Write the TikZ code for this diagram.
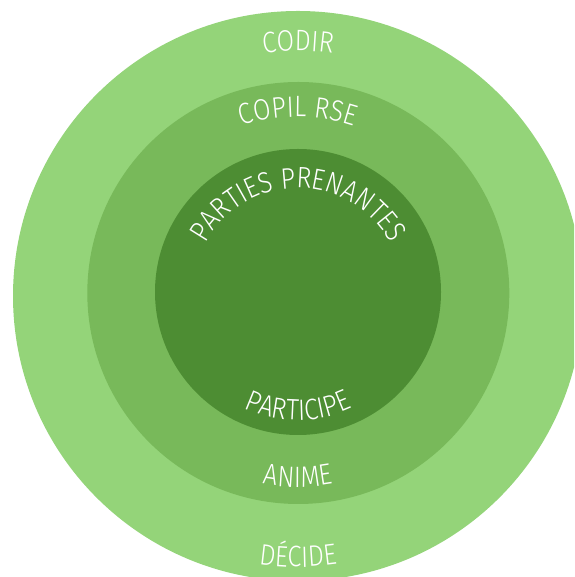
\documentclass[tikz,border=0pt]{standalone}
\usepackage{fontspec}
\setmainfont{Fira Sans}[UprightFont=* Light, FakeStretch=0.86]
\usetikzlibrary{decorations.text}
\definecolor{outerg}{HTML}{94D479}
\definecolor{midg}{HTML}{78B95A}
\definecolor{innerg}{HTML}{4D8D33}
\tikzset{
  ringlabel/.style={decorate, decoration={text along path, text align=center, text color=white, text={#1}}},
}
\newcommand{\lblfont}{\fontsize{29.5}{29.5}\selectfont}
\begin{document}
\begin{tikzpicture}[x=1pt,y=1pt]
\useasboundingbox (0,0) rectangle (574,577);
\begin{scope}
\clip (0,0) rectangle (574,577);
\fill[outerg] (298,281) circle[radius=285];
\fill[midg] (298.3,284) circle[radius=211];
\fill[innerg] (298,285) circle[radius=143];
\coordinate (c) at (298,284);
% top labels
\path[ringlabel={|\lblfont|CODIR}] ([shift={(160:242)}]c) arc[start angle=160, end angle=20, radius=242];
\path[ringlabel={|\lblfont|COPIL RSE}] ([shift={(160:176)}]c) arc[start angle=160, end angle=20, radius=176];
\path[ringlabel={|\lblfont|PARTIES PRENANTES}] ([shift={(178:105)}]c) arc[start angle=178, end angle=2, radius=105];
% bottom labels
\path[ringlabel={|\lblfont|PARTICIPE}] ([shift={(200:127)}]c) arc[start angle=200, end angle=340, radius=127];
\path[ringlabel={|\lblfont|ANIME}] ([shift={(200:194)}]c) arc[start angle=200, end angle=340, radius=194];
\path[ringlabel={|\lblfont|DÉCIDE}] ([shift={(200:274)}]c) arc[start angle=200, end angle=340, radius=274];
\end{scope}
\end{tikzpicture}
\end{document}
